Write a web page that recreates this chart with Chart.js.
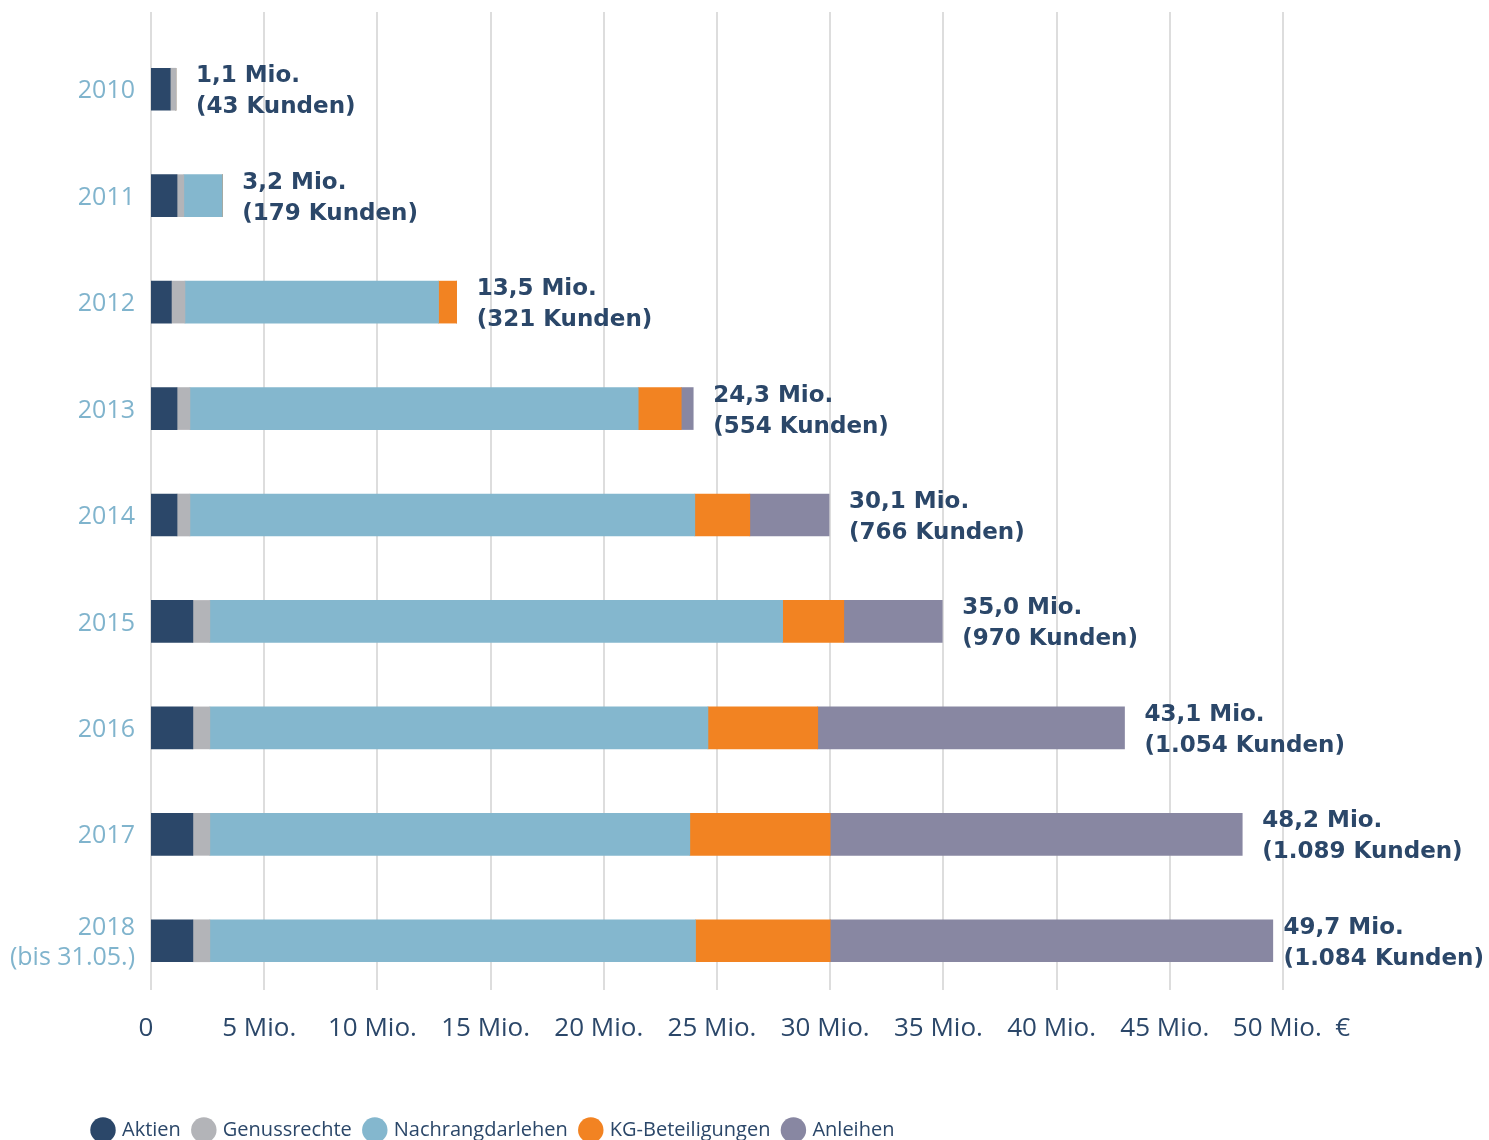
<!DOCTYPE html>
<html>
<head>
<meta charset="utf-8">
<script src="https://cdn.jsdelivr.net/npm/chart.js@4/dist/chart.umd.min.js"></script>
<style>
html,body{margin:0;padding:0;background:#fff;}
canvas{display:block;}
</style>
</head>
<body>
<canvas id="c" width="1489" height="1140"></canvas>
<script>
// ---- data ----
const years = ['2010','2011','2012','2013','2014','2015','2016','2017',['2018','(bis 31.05.)']];
const aktien   = [0.85, 1.15, 0.90, 1.15, 1.15, 1.85, 1.85, 1.85, 1.85];
const genuss   = [0.25, 0.30, 0.60, 0.57, 0.57, 0.75, 0.75, 0.75, 0.75];
const nachrang = [0.00, 1.70, 11.2, 19.8, 22.3, 25.3, 22.0, 21.2, 21.45];
const kg       = [0.00, 0.00, 0.80, 1.90, 2.43, 2.70, 4.85, 6.20, 5.95];
const anleihen = [0.00, 0.00, 0.00, 0.53, 3.50, 4.35, 13.55, 18.2, 19.55];
const totalLabels = ['1,1 Mio.','3,2 Mio.','13,5 Mio.','24,3 Mio.','30,1 Mio.','35,0 Mio.','43,1 Mio.','48,2 Mio.','49,7 Mio.'];
const kundenLabels = ['(43 Kunden)','(179 Kunden)','(321 Kunden)','(554 Kunden)','(766 Kunden)','(970 Kunden)','(1.054 Kunden)','(1.089 Kunden)','(1.084 Kunden)'];
const seriesNames = ['Aktien','Genussrechte','Nachrangdarlehen','KG-Beteiligungen','Anleihen'];
const xTickMax = 50, xTickStep = 5;

const NAVY = '#2b4769';
const colors = ['#2b4769','#b3b4b8','#84b7ce','#f28322','#8887a2'];
const seriesData = [aktien, genuss, nachrang, kg, anleihen];

const gridPlugin = {
  id: 'fullGrid',
  beforeDatasetsDraw(chart) {
    const ctx = chart.ctx, x = chart.scales.x, area = chart.chartArea;
    ctx.save();
    ctx.strokeStyle = '#dddddd';
    ctx.lineWidth = 2;
    x.ticks.forEach(t => {
      const px = Math.round(x.getPixelForValue(t.value));
      ctx.beginPath();
      ctx.moveTo(px, 12);
      ctx.lineTo(px, area.bottom - 4);
      ctx.stroke();
    });
    ctx.restore();
  }
};

const legendShift = {
  id: 'legendShift',
  afterLayout(chart) {
    if (chart.legend) chart.legend.left = 80;
  }
};

const valuePlugin = {
  id: 'valueLabels',
  afterDatasetsDraw(chart) {
    const ctx = chart.ctx;
    ctx.save();
    ctx.fillStyle = NAVY;
    ctx.font = 'bold 23px "DejaVu Sans"';
    ctx.textAlign = 'left';
    ctx.textBaseline = 'middle';
    years.forEach((y, i) => {
      let end = -Infinity, cy = 0;
      chart.data.datasets.forEach((ds, d) => {
        const el = chart.getDatasetMeta(d).data[i];
        if (el.x > end) end = el.x;
        cy = el.y;
      });
      const w = Math.max(ctx.measureText(totalLabels[i]).width, ctx.measureText(kundenLabels[i]).width);
      const tx = Math.min(end + 20, chart.width - w - 5);
      ctx.fillText(totalLabels[i], tx, cy - 13);
      ctx.fillText(kundenLabels[i], tx, cy + 18);
    });
    ctx.restore();
  }
};

new Chart(document.getElementById('c'), {
  type: 'bar',
  data: {
    labels: years,
    datasets: seriesNames.map((n, i) => ({
      label: n,
      data: seriesData[i],
      backgroundColor: colors[i],
      borderWidth: 0,
      barThickness: 42
    }))
  },
  options: {
    indexAxis: 'y',
    responsive: false,
    devicePixelRatio: 1,
    animation: false,
    layout: { padding: { left: 0, right: 206, top: 36, bottom: -10 } },
    plugins: {
      legend: {
        position: 'bottom',
        align: 'start',
        labels: {
          usePointStyle: true,
          pointStyle: 'circle',
          boxHeight: 18,
          boxWidth: 18,
          color: NAVY,
          padding: 14,
          font: { family: '"Open Sans"', size: 20 }
        }
      },
      tooltip: { enabled: false }
    },
    scales: {
      x: {
        stacked: true,
        min: 0, max: xTickMax,
        grid: { display: false, drawTicks: false },
        border: { display: false },
        ticks: {
          stepSize: xTickStep,
          padding: 19,
          labelOffset: -5,
          color: NAVY,
          font: { family: '"Open Sans"', size: 26 },
          maxRotation: 0,
          autoSkip: false,
          callback: v => v === 0 ? '0' : (v === xTickMax ? '    ' + v + ' Mio.  €' : v + ' Mio.')
        },
        afterFit(s) { s.height = 112; s.paddingLeft = 0; s.paddingRight = 0; }
      },
      y: {
        stacked: true,
        grid: { display: false, drawTicks: false },
        border: { display: false },
        ticks: {
          padding: 16,
          labelOffset: 2,
          color: '#80b4cd',
          font: { family: '"Open Sans"', size: 25, lineHeight: 1.2 }
        },
        afterFit(s) { s.width = 151; s.paddingTop = 0; s.paddingBottom = 0; }
      }
    }
  },
  plugins: [gridPlugin, legendShift, valuePlugin]
});
</script>
</body>
</html>
